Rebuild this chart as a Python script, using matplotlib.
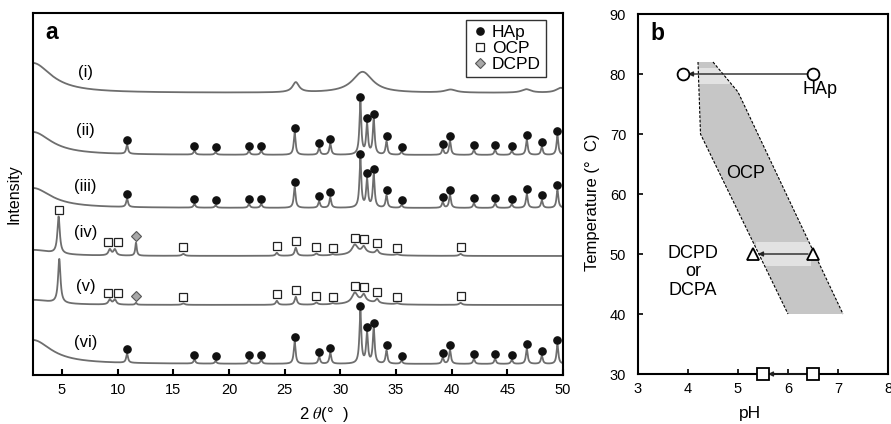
import matplotlib.pyplot as plt
import numpy as np
from matplotlib.lines import Line2D
from matplotlib.patches import Polygon, Rectangle

plt.rcParams["font.family"] = ["Liberation Sans", "DejaVu Sans"]
plt.rcParams["mathtext.fontset"] = "stix"

# ---------------------------------------------------------------------------
# Panel a: XRD patterns. Intensities are in arbitrary units read off the
# picture; every trace sits on its own vertical offset.
# ---------------------------------------------------------------------------
trace_labels = ["(i)", "(ii)", "(iii)", "(iv)", "(v)", "(vi)"]
baselines = [282, 220, 167, 119, 70, 11]
label_y = [303, 245, 188, 142, 89, 33]
lowangle_amp = [30, 23, 20, 6, 5, 24]

# (i) amorphous precursor: broad humps
amorph_pos = [26.0, 32.0, 39.9, 46.7, 49.8]
amorph_height = [10, 21, 3, 3.5, 5]
amorph_width = [0.35, 1.1, 0.6, 0.5, 0.5]

# HAp reflections, heights as read on trace (ii)
hap_pos = [10.85, 16.9, 18.8, 21.8, 22.9, 25.9, 28.1, 29.1, 31.8, 32.4, 33.0,
           34.15, 35.5, 39.2, 39.85, 42.0, 43.9, 45.4, 46.75, 48.1, 49.5]
hap_height = [9, 4, 2.5, 4, 4, 22, 7, 11, 52, 30, 35,
              13, 3, 6, 14, 5, 5, 4, 15, 8, 19]
hap_scale = {"(ii)": 1.0, "(iii)": 0.93, "(vi)": 1.0}

# OCP-rich samples (iv) and (v); last entry is the broad hump under 31-34
ocp_pos_iv = [4.7, 9.3, 9.75, 11.65, 15.9, 24.3, 26.0, 27.85, 29.3, 31.3,
              32.1, 33.3, 35.1, 40.8, 32.2]
ocp_pos_v = [4.76, 9.3, 9.75, 11.65, 15.9, 24.3, 26.0, 27.85, 29.3, 31.3,
             32.1, 33.3, 35.1, 40.8, 32.2]
ocp_height_iv = [37, 6, 6, 13, 2, 3, 8, 2, 1, 9, 6, 4, 1, 2, 3]
ocp_height_v = [44, 5, 5, 2, 1.5, 4, 8, 2, 1, 10, 7, 4, 1, 2, 3]
ocp_width = [0.13, 0.15, 0.15, 0.08, 0.15, 0.12, 0.12, 0.15, 0.15, 0.3,
             0.2, 0.15, 0.2, 0.15, 1.5]

# phase markers
ocp_marks_iv = [4.7, 9.1, 10.0, 15.9, 24.3, 26.0, 27.85, 29.3, 31.3, 32.1,
                33.3, 35.1, 40.8]
ocp_marks_v = ocp_marks_iv[1:]
dcpd_marks = [11.65]

# ---------------------------------------------------------------------------
# Panel b: pH-temperature map
# ---------------------------------------------------------------------------
ocp_left_ph = [4.2, 4.25, 6.0]
ocp_left_t = [82, 70, 40]
ocp_right_ph = [4.5, 5.0, 7.1]
ocp_right_t = [82, 77, 40]

run_start_ph = [6.5, 6.5, 6.5]
run_end_ph = [3.9, 5.3, 5.5]
run_temp = [80, 50, 30]
run_marker = ["o", "^", "s"]


def profile(x, pos, height, width):
    y = np.zeros_like(x)
    for p, h, w in zip(pos, height, width):
        y += h / (1 + ((x - p) / w) ** 2)
    return y


x = np.linspace(2.4, 50, 4000)
curves = {}
for lab, base, amp in zip(trace_labels, baselines, lowangle_amp):
    y = base + amp / (1 + ((x - 2.4) / 2.0) ** 2)
    if lab == "(i)":
        y += profile(x, amorph_pos, amorph_height, amorph_width)
    elif lab in hap_scale:
        y += profile(x, hap_pos, np.array(hap_height) * hap_scale[lab],
                     [0.1] * len(hap_pos))
    elif lab == "(iv)":
        y += profile(x, ocp_pos_iv, ocp_height_iv, ocp_width)
    else:
        y += profile(x, ocp_pos_v, ocp_height_v, ocp_width)
    curves[lab] = y


def mark_y(lab, xs, gap):
    return [curves[lab][np.abs(x - m) < 0.3].max() + gap for m in xs]


fig = plt.figure(figsize=(8.91, 4.24), dpi=100)

# ---- panel a
ax = fig.add_axes([33 / 891, 1 - 375 / 424, 530 / 891, 362 / 424])
for lab, ly in zip(trace_labels, label_y):
    ax.plot(x, curves[lab], color="#6e6e6e", lw=1.3)
    ax.text(7.1, ly, lab, fontsize=12, ha="center", va="center")

circle_kw = dict(ls="none", marker="o", ms=5.2, color="#111111")
square_kw = dict(ls="none", marker="s", ms=5.8, mfc="white", mec="#222222", mew=0.9)
diamond_kw = dict(ls="none", marker="D", ms=5, mfc="#a8a8a8", mec="#555555", mew=0.8)

for lab in hap_scale:
    ax.plot(hap_pos, mark_y(lab, hap_pos, 5), **circle_kw)
ax.plot(ocp_marks_iv, mark_y("(iv)", ocp_marks_iv, 6.5), **square_kw)
ax.plot(ocp_marks_v, mark_y("(v)", ocp_marks_v, 6.5), **square_kw)
ax.plot(dcpd_marks, mark_y("(iv)", dcpd_marks, 7), **diamond_kw)
ax.plot(dcpd_marks, mark_y("(v)", dcpd_marks, 7), **diamond_kw)

ax.set_xlim(2.4, 50)
ax.set_ylim(0, 362)
ax.set_xticks(range(5, 51, 5))
ax.set_yticks([])
ax.tick_params(axis="x", direction="in", length=4.5, width=1.5, labelsize=10.5, pad=5.5)
for s in ax.spines.values():
    s.set_linewidth(1.5)
ax.set_ylabel("Intensity", fontsize=11.5)
ax.yaxis.set_label_coords(-0.022, 0.5)
ax.set_xlabel(r"2 $\theta$(°  )", fontsize=12)
ax.xaxis.set_label_coords(0.549, -0.083)
ax.text(0.036, 0.945, "a", transform=ax.transAxes, fontsize=16.5,
        fontweight="bold", ha="center", va="center")

handles = [Line2D([], [], **circle_kw), Line2D([], [], **square_kw),
           Line2D([], [], **diamond_kw)]
leg = ax.legend(handles, ["HAp", "OCP", "DCPD"], loc="upper right",
                bbox_to_anchor=(0.968, 0.981), borderaxespad=0, fontsize=12.5,
                labelspacing=0.05, handletextpad=0.2, handlelength=1.0,
                borderpad=0.3, fancybox=False, framealpha=1)
leg.get_frame().set_edgecolor("#333333")
leg.get_frame().set_linewidth(1.0)

# ---- panel b
bx = fig.add_axes([638 / 891, 1 - 374 / 424, 250 / 891, 360 / 424])
poly = Polygon(list(zip(ocp_left_ph + ocp_right_ph[::-1],
                        ocp_left_t + ocp_right_t[::-1])),
               closed=True, facecolor="#c6c6c6", edgecolor="none")
bx.add_patch(poly)
for ph0, t0, w, h in [(4.2, 78.3, 1.6, 2.7), (5.35, 48.0, 1.1, 4.0)]:
    band = Rectangle((ph0, t0), w, h, facecolor="#e2e2e2", edgecolor="none")
    bx.add_patch(band)
    band.set_clip_path(poly)
bx.plot(ocp_left_ph, ocp_left_t, color="k", lw=0.8, dashes=(2.5, 1.5))
bx.plot(ocp_right_ph, ocp_right_t, color="k", lw=0.8, dashes=(2.5, 1.5))

for p0, p1, t, m in zip(run_start_ph, run_end_ph, run_temp, run_marker):
    bx.annotate("", xy=(p1 + 0.1, t), xytext=(p0 - 0.1, t),
                arrowprops=dict(arrowstyle="-|>", color="#222222", lw=1.0,
                                mutation_scale=7, shrinkA=0, shrinkB=0))
    bx.plot([p0, p1], [t, t], ls="none", marker=m, ms=8.5, mfc="white",
            mec="black", mew=1.3, clip_on=False, zorder=5)

bx.text(6.65, 77.5, "HAp", fontsize=13, ha="center", va="center")
bx.text(5.15, 63.5, "OCP", fontsize=13, ha="center", va="center")
bx.text(4.1, 47, "DCPD\nor\nDCPA", fontsize=13, ha="center", va="center",
        linespacing=1.1)

bx.set_xlim(3, 8)
bx.set_ylim(30, 90)
bx.set_xticks(range(3, 9))
bx.set_yticks(range(30, 91, 10))
bx.tick_params(direction="in", length=3.5, width=1.2, labelsize=10.5)
bx.tick_params(axis="x", pad=5.5)
bx.tick_params(axis="y", pad=8.5)
for s in bx.spines.values():
    s.set_linewidth(1.5)
bx.set_xlabel("pH", fontsize=12.5)
bx.xaxis.set_label_coords(0.448, -0.089)
bx.set_ylabel("Temperature (°  C)", fontsize=12)
bx.yaxis.set_label_coords(-0.152, 0.478)
bx.text(0.076, 0.947, "b", transform=bx.transAxes, fontsize=16.5,
        fontweight="bold", ha="center", va="center")

fig.savefig("out.png", dpi=100)
